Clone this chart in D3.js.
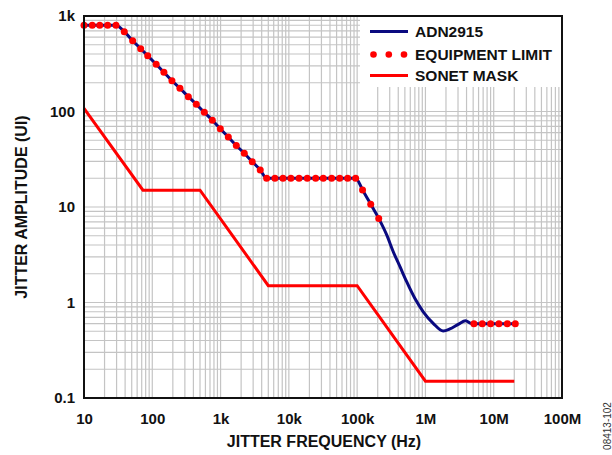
<!DOCTYPE html>
<html>
<head>
<meta charset="utf-8">
<script src="https://cdn.jsdelivr.net/npm/d3@7"></script>
<style>
    html, body { margin: 0; padding: 0; background: #fff; }
    svg { display: block; font-family: "Liberation Sans", Arial, sans-serif; }
</style>
</head>
<body>
<svg id="chart" width="612" height="455"></svg>
<script>
// values (Hz, UI)
var adnFreq = [10, 29.4, 38.9, 51.6, 67.6, 85.7, 114, 148, 194, 254, 337, 441, 578, 757, 991,
    1298, 1700, 2224, 2911, 3811, 4730, 6250, 10700, 24700, 55500, 95000,
    120e3, 158e3, 207e3, 271e3, 338e3, 424e3, 531e3, 702e3, 929e3,
    1.30e6, 1.82e6, 2.28e6, 3.02e6, 3.88e6, 4.59e6, 5.13e6, 9.0e6, 20.7e6];
var adnAmp = [800, 800, 685, 551, 455, 384, 312, 257, 210, 175, 143, 119, 98, 81, 66,
    54, 44, 36.5, 29.8, 24.4, 20, 20, 20, 20, 20, 20,
    15.1, 10.7, 7.6, 5.1, 3.4, 2.37, 1.65, 1.10, 0.80,
    0.605, 0.503, 0.528, 0.59, 0.644, 0.605, 0.6, 0.6, 0.6];

var equipFreq = [10, 13.2, 17, 22.2, 29.4,
    38.9, 51.6, 67.6, 85.7, 114, 148, 194, 254, 337, 441, 578, 757, 991,
    1298, 1700, 2224, 2911, 3811, 4730,
    6250, 8200, 10700, 14100, 18600, 24700, 31900, 42300, 55500, 72600, 95000,
    120e3, 158e3, 207e3,
    5.13e6, 6.79e6, 9.0e6, 11.9e6, 15.8e6, 20.7e6];
var equipAmp = [800, 800, 800, 800, 800,
    685, 551, 455, 384, 312, 257, 210, 175, 143, 119, 98, 81, 66,
    54, 44, 36.5, 29.8, 24.4, 20,
    20, 20, 20, 20, 20, 20, 20, 20, 20, 20, 20,
    15.1, 10.7, 7.6,
    0.6, 0.6, 0.6, 0.6, 0.6, 0.6];

var maskFreq = [10, 73, 500, 5000, 100e3, 1e6, 20e6];
var maskAmp = [108, 15, 15, 1.5, 1.5, 0.15, 0.15];

var xTickVals = [10, 100, 1e3, 1e4, 1e5, 1e6, 1e7, 1e8];
var xTickLabels = ['10', '100', '1k', '10k', '100k', '1M', '10M', '100M'];
var yTickVals = [0.1, 1, 10, 100, 1000];
var yTickLabels = ['0.1', '1', '10', '100', '1k'];

var seriesNames = ['ADN2915', 'EQUIPMENT LIMIT', 'SONET MASK'];

(function() {
    var pLeft = 84, pTop = 16, pRight = 562, pBottom = 398;
    var navy = '#0a0a80', red = '#ff0000';

    var svg = d3.select('#chart');

    var x = d3.scaleLog().domain([10, 1e8]).range([pLeft, pRight]),
        y = d3.scaleLog().domain([0.1, 1000]).range([pBottom, pTop]);

    // grid, 1..9 per decade
    var grid = svg.append('g')
        .attr('stroke', '#c4c4c4')
        .attr('stroke-width', 1.2);

    grid.selectAll('line.v')
            .data(x.ticks())
        .enter()
            .append('line')
            .attr('class', 'v')
            .attr('x1', function(d) { return x(d); })
            .attr('x2', function(d) { return x(d); })
            .attr('y1', pTop)
            .attr('y2', pBottom);

    grid.selectAll('line.h')
            .data(y.ticks())
        .enter()
            .append('line')
            .attr('class', 'h')
            .attr('x1', pLeft)
            .attr('x2', pRight)
            .attr('y1', function(d) { return y(d); })
            .attr('y2', function(d) { return y(d); });

    // axes (labels only)
    var xAxis = d3.axisBottom(x)
        .tickValues(xTickVals)
        .tickFormat(function(d, i) { return xTickLabels[i]; })
        .tickSize(0)
        .tickPadding(15);

    var yAxis = d3.axisLeft(y)
        .tickValues(yTickVals)
        .tickFormat(function(d, i) { return yTickLabels[i]; })
        .tickSize(0)
        .tickPadding(9);

    svg.append('g')
        .attr('transform', 'translate(0,' + pBottom + ')')
        .call(xAxis)
        .call(function(g) { g.select('.domain').remove(); });

    svg.append('g')
        .attr('transform', 'translate(' + pLeft + ',0)')
        .call(yAxis)
        .call(function(g) { g.select('.domain').remove(); });

    svg.selectAll('.tick text')
        .attr('fill', '#111')
        .attr('font-family', '"Liberation Sans", Arial, sans-serif')
        .attr('font-weight', 'bold')
        .attr('font-size', 15);

    // legend box covers the grid
    svg.append('rect')
        .attr('x', 360)
        .attr('y', pTop)
        .attr('width', pRight - 360)
        .attr('height', 71)
        .attr('fill', '#fff');

    var legendY = [31.5, 54.5, 75.5];

    svg.append('line')
        .attr('x1', 370).attr('x2', 408)
        .attr('y1', legendY[0]).attr('y2', legendY[0])
        .attr('stroke', navy).attr('stroke-width', 3.2);

    svg.selectAll('circle.legend')
            .data([373.5, 388.8, 404])
        .enter()
            .append('circle')
            .attr('class', 'legend')
            .attr('cx', function(d) { return d; })
            .attr('cy', legendY[1])
            .attr('r', 3.3)
            .attr('fill', red);

    svg.append('line')
        .attr('x1', 370).attr('x2', 408)
        .attr('y1', legendY[2]).attr('y2', legendY[2])
        .attr('stroke', red).attr('stroke-width', 3.2);

    svg.selectAll('text.legend')
            .data(seriesNames)
        .enter()
            .append('text')
            .attr('class', 'legend')
            .attr('x', 415)
            .attr('y', function(d, i) { return legendY[i] + 5.5; })
            .attr('font-size', 15.5)
            .attr('font-weight', 'bold')
            .attr('fill', '#111')
            .text(function(d) { return d; });

    // series
    var line = d3.line()
        .x(function(d) { return x(d[0]); })
        .y(function(d) { return y(d[1]); });

    svg.append('path')
        .datum(d3.zip(maskFreq, maskAmp))
        .attr('d', line)
        .attr('fill', 'none')
        .attr('stroke', red)
        .attr('stroke-width', 3)
        .attr('stroke-linejoin', 'miter');

    svg.append('path')
        .datum(d3.zip(adnFreq, adnAmp))
        .attr('d', line.curve(d3.curveMonotoneX))
        .attr('fill', 'none')
        .attr('stroke', navy)
        .attr('stroke-width', 3);

    svg.selectAll('circle.equip')
            .data(d3.zip(equipFreq, equipAmp))
        .enter()
            .append('circle')
            .attr('class', 'equip')
            .attr('cx', function(d) { return x(d[0]); })
            .attr('cy', function(d) { return y(d[1]); })
            .attr('r', 3.5)
            .attr('fill', red);

    // frame
    svg.append('rect')
        .attr('x', pLeft)
        .attr('y', pTop)
        .attr('width', pRight - pLeft)
        .attr('height', pBottom - pTop)
        .attr('fill', 'none')
        .attr('stroke', '#111')
        .attr('stroke-width', 2);

    // titles
    svg.append('text')
        .attr('x', 324)
        .attr('y', 447)
        .attr('text-anchor', 'middle')
        .attr('font-size', 16)
        .attr('font-weight', 'bold')
        .attr('fill', '#111')
        .text('JITTER FREQUENCY (Hz)');

    svg.append('text')
        .attr('transform', 'translate(27,207) rotate(-90)')
        .attr('text-anchor', 'middle')
        .attr('font-size', 16)
        .attr('font-weight', 'bold')
        .attr('fill', '#111')
        .text('JITTER AMPLITUDE (UI)');

    svg.append('text')
        .attr('transform', 'translate(611,426) rotate(-90)')
        .attr('text-anchor', 'middle')
        .attr('font-size', 10)
        .attr('fill', '#333')
        .text('08413-102');
})();
</script>
</body>
</html>
